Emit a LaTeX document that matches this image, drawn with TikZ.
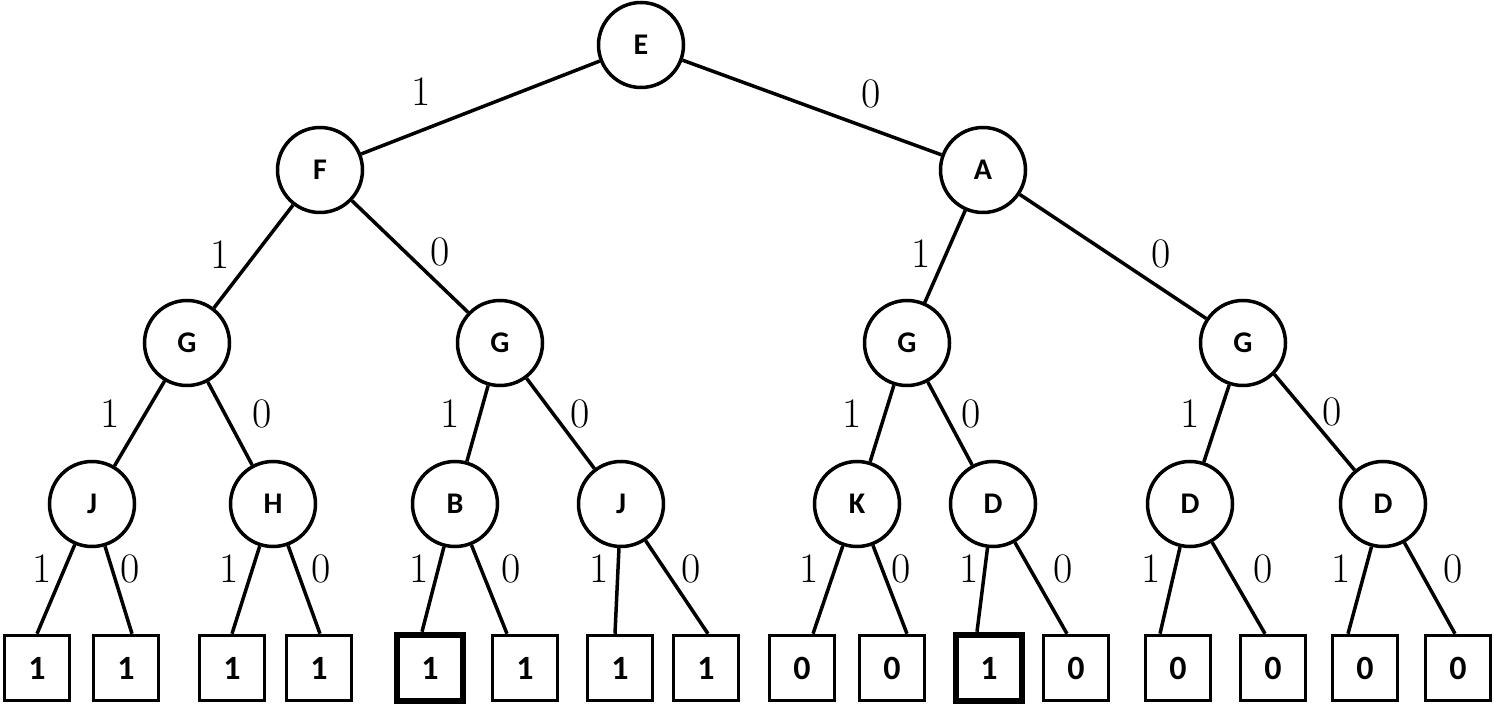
\documentclass[tikz,border=0pt]{standalone}
\usepackage{fontspec}
\newfontfamily\nodefont{Carlito}
\begin{document}
\begin{tikzpicture}[x=1pt,y=-1pt,
  every node/.style={inner sep=0pt},
  cnode/.style={circle, draw, line width=3.5pt, minimum size=85pt, font=\nodefont\bfseries\fontsize{30}{30}\selectfont},
  leaf/.style={rectangle, draw, line width=3.5pt, minimum size=65pt, font=\nodefont\bfseries\fontsize{34}{34}\selectfont},
  hileaf/.style={leaf, line width=6.5pt, minimum size=66pt},
  edge/.style={line width=3.5pt},
  lbl/.style={font=\fontsize{42}{42}\selectfont}
]
\useasboundingbox (0,0) rectangle (1494,708);
% internal nodes
\node[cnode] (E) at (641,45) {E};
\node[cnode] (F) at (320,170) {F};
\node[cnode] (A) at (983,170) {A};
\node[cnode] (G1) at (187,343) {G};
\node[cnode] (G2) at (500,343) {G};
\node[cnode] (G3) at (907,343) {G};
\node[cnode] (G4) at (1243,343) {G};
\node[cnode] (J1) at (92,504) {J};
\node[cnode] (H)  at (273,504) {H};
\node[cnode] (B)  at (455,504) {B};
\node[cnode] (J2) at (621,504) {J};
\node[cnode] (K)  at (857,504) {K};
\node[cnode] (D1) at (993,504) {D};
\node[cnode] (D2) at (1190,504) {D};
\node[cnode] (D3) at (1383,504) {D};
% leaves
\node[leaf] (L1) at (37,668) {1};
\node[leaf] (L2) at (126,668) {1};
\node[leaf] (L3) at (232,668) {1};
\node[leaf] (L4) at (319,668) {1};
\node[hileaf] (L5) at (430,668) {1};
\node[leaf] (L6) at (525,668) {1};
\node[leaf] (L7) at (620,668) {1};
\node[leaf] (L8) at (706,668) {1};
\node[leaf] (L9) at (802,668) {0};
\node[leaf] (L10) at (892,668) {0};
\node[hileaf] (L11) at (989,668) {1};
\node[leaf] (L12) at (1076,668) {0};
\node[leaf] (L13) at (1178,668) {0};
\node[leaf] (L14) at (1273,668) {0};
\node[leaf] (L15) at (1365,668) {0};
\node[leaf] (L16) at (1458,668) {0};
% edges
\draw[edge] (E) -- (F);
\draw[edge] (E) -- (A);
\draw[edge] (F) -- (G1);
\draw[edge] (F) -- (G2);
\draw[edge] (A) -- (G3);
\draw[edge] (A) -- (G4);
\draw[edge] (G1) -- (J1);
\draw[edge] (G1) -- (H);
\draw[edge] (G2) -- (B);
\draw[edge] (G2) -- (J2);
\draw[edge] (G3) -- (K);
\draw[edge] (G3) -- (D1);
\draw[edge] (G4) -- (D2);
\draw[edge] (G4.-45) -- (D3);
\draw[edge] (J1) -- ([xshift=0pt]L1.north);
\draw[edge] (J1) -- ([xshift=6pt]L2.north);
\draw[edge] (H) -- ([xshift=0pt]L3.north);
\draw[edge] (H) -- ([xshift=1pt]L4.north);
\draw[edge] (B) -- ([xshift=-8pt]L5.north);
\draw[edge] (B) -- ([xshift=-18pt]L6.north);
\draw[edge] (J2) -- ([xshift=-5pt]L7.north);
\draw[edge] (J2) -- ([xshift=2pt]L8.north);
\draw[edge] (K) -- ([xshift=11pt]L9.north);
\draw[edge] (K) -- ([xshift=15pt]L10.north);
\draw[edge] (D1) -- ([xshift=-12pt]L11.north);
\draw[edge] (D1) -- ([xshift=-9pt]L12.north);
\draw[edge] (D2) -- ([xshift=-18pt]L13.north);
\draw[edge] (D2) -- ([xshift=-8pt]L14.north);
\draw[edge] (D3) -- ([xshift=-17pt]L15.north);
\draw[edge] (D3) -- ([xshift=-3pt]L16.north);
% edge labels
\node[lbl] (e1) at (421,92) {1};
\node[lbl] (e2) at (871,94) {0};
\node[lbl] (e3) at (220,255) {1};
\node[lbl] (e4) at (440,252) {0};
\node[lbl] (e5) at (921,254) {1};
\node[lbl] (e6) at (1161,254) {0};
\node[lbl] (e7) at (110,414) {1};
\node[lbl] (e8) at (262,414) {0};
\node[lbl] (e9) at (450,414) {1};
\node[lbl] (e10) at (580,414) {0};
\node[lbl] (e11) at (852,414) {1};
\node[lbl] (e12) at (971,414) {0};
\node[lbl] (e13) at (1190,414) {1};
\node[lbl] (e14) at (1332,412) {0};
\node[lbl] (f1) at (42,569) {1};
\node[lbl] (f2) at (130,569) {0};
\node[lbl] (f3) at (229,569) {1};
\node[lbl] (f4) at (321,569) {0};
\node[lbl] (f5) at (419,569) {1};
\node[lbl] (f6) at (511,569) {0};
\node[lbl] (f7) at (599,569) {1};
\node[lbl] (f8) at (691,569) {0};
\node[lbl] (f9) at (809,569) {1};
\node[lbl] (f10) at (901,569) {0};
\node[lbl] (f11) at (969,569) {1};
\node[lbl] (f12) at (1063,569) {0};
\node[lbl] (f13) at (1151,569) {1};
\node[lbl] (f14) at (1263,569) {0};
\node[lbl] (f15) at (1341,569) {1};
\node[lbl] (f16) at (1453,569) {0};
\end{tikzpicture}
\end{document}
